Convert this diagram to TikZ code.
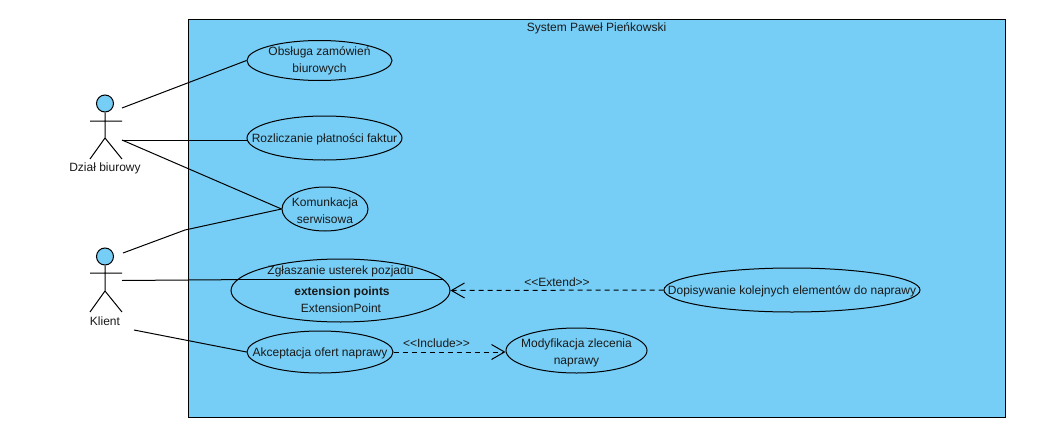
\documentclass[tikz,border=0pt]{standalone}
\usepackage{fontspec}
\setmainfont{Liberation Sans}
\usetikzlibrary{shapes.geometric,arrows.meta}
\definecolor{systemBlue}{RGB}{118,206,246}
\tikzset{
	usecase/.style={draw, ellipse, inner sep=0pt, line width=1pt},
	usecaseText/.style={align=center, inner sep=0pt},
	actorHead/.style={draw, circle, fill=systemBlue, minimum size=17pt, inner sep=0pt, line width=1pt},
	assoc/.style={line width=1pt},
	depend/.style={line width=1pt, dash pattern=on 5pt off 4pt, -{Straight Barb[length=13pt,width=15pt,line width=1pt]}},
	stereotype/.style={inner sep=0pt}
}
\begin{document}
\begin{tikzpicture}[x=1pt, y=-1pt, font=\fontsize{12}{17}\selectfont, text=black!90]
	\useasboundingbox (0,0) rectangle (1039,431);
	\node[draw, fill=systemBlue, line width=1pt, minimum width=817pt, minimum height=398pt, inner sep=0pt] (systemBox) at (596.5,218) {};
	\node[] (systemText) at (596.5,28) {System Paweł Pieńkowski};

	\node[usecase, minimum width=145pt, minimum height=40pt] (obsluga) at (319.5,60.5) {};
	\node[usecaseText] (obslugaText) at (319.5,60.5) {Obsługa zamówień\\biurowych};
	\node[usecase, minimum width=155pt, minimum height=44pt] (rozliczanie) at (324.5,138) {};
	\node[usecaseText] (rozliczanieText) at (324.5,139) {Rozliczanie płatności faktur};
	\node[usecase, minimum width=86pt, minimum height=44pt] (komunikacja) at (325,209) {};
	\node[usecaseText] (komunikacjaText) at (325,211) {Komunkacja\\serwisowa};
	\node[usecase, minimum width=219pt, minimum height=63pt] (zglaszanie) at (340.5,290.5) {};
	\node[usecaseText] (zglaszanieText) at (340.5,271) {Zgłaszanie usterek pozjadu};
	\node[usecaseText, font=\fontsize{12}{14}\selectfont\bfseries] (pointsText) at (342,292) {extension points};
	\node[usecaseText] (pointText) at (341,308.5) {ExtensionPoint};
	\node[usecase, minimum width=146pt, minimum height=42pt] (akceptacja) at (320,352) {};
	\node[usecaseText] (akceptacjaText) at (320,353) {Akceptacja ofert naprawy};
	\node[usecase, minimum width=141pt, minimum height=45pt] (modyfikacja) at (576.5,350.5) {};
	\node[usecaseText] (modyfikacjaText) at (576.5,353) {Modyfikacja zlecenia\\naprawy};
	\node[usecase, minimum width=256pt, minimum height=44pt] (dopisywanie) at (792,290) {};
	\node[usecaseText] (dopisywanieText) at (792,291) {Dopisywanie kolejnych elementów do naprawy};
	\draw[assoc] (zglaszanie.174) -- (zglaszanie.6);

	% actors
	\node[actorHead] (biuroHead) at (105,103.5) {};
	\draw[assoc] (biuroHead.south) -- (105,138) -- (90,159) (105,138) -- (122,159) (90,121) -- (122,121);
	\node[] (biuroText) at (105,168.5) {Dział biurowy};
	\node[actorHead] (klientHead) at (105,256.5) {};
	\draw[assoc] (klientHead.south) -- (105,291) -- (90,312) (105,291) -- (122,312) (90,273) -- (122,273);
	\node[] (klientText) at (105,321) {Klient};

	\coordinate (biuroTop) at (122,108);
	\coordinate (biuroMid) at (122,140);
	\coordinate (klientTop) at (123,253);
	\coordinate (klientBend) at (185,230);
	\coordinate (klientMid) at (122,280.5);
	\coordinate (klientLow) at (134,330);
	\draw[assoc] (biuroTop) -- (obsluga.west);
	\draw[assoc] (biuroMid) -- (rozliczanie.west |- biuroMid);
	\draw[assoc] (biuroMid) -- (komunikacja.west);
	\draw[assoc] (klientTop) -- (klientBend) -- (komunikacja.west);
	\draw[assoc] (klientMid) -- (zglaszanie.174);
	\draw[assoc] (klientLow) -- (akceptacja.west);

	\draw[depend] (dopisywanie.west) -- (zglaszanie.east);
	\node[stereotype] (extendText) at (557,282) {<{}<Extend>{}>};
	\draw[depend] (akceptacja.east) -- (modyfikacja.west |- akceptacja.east);
	\node[stereotype] (includeText) at (436.5,343) {<{}<Include>{}>};
\end{tikzpicture}
\end{document}
